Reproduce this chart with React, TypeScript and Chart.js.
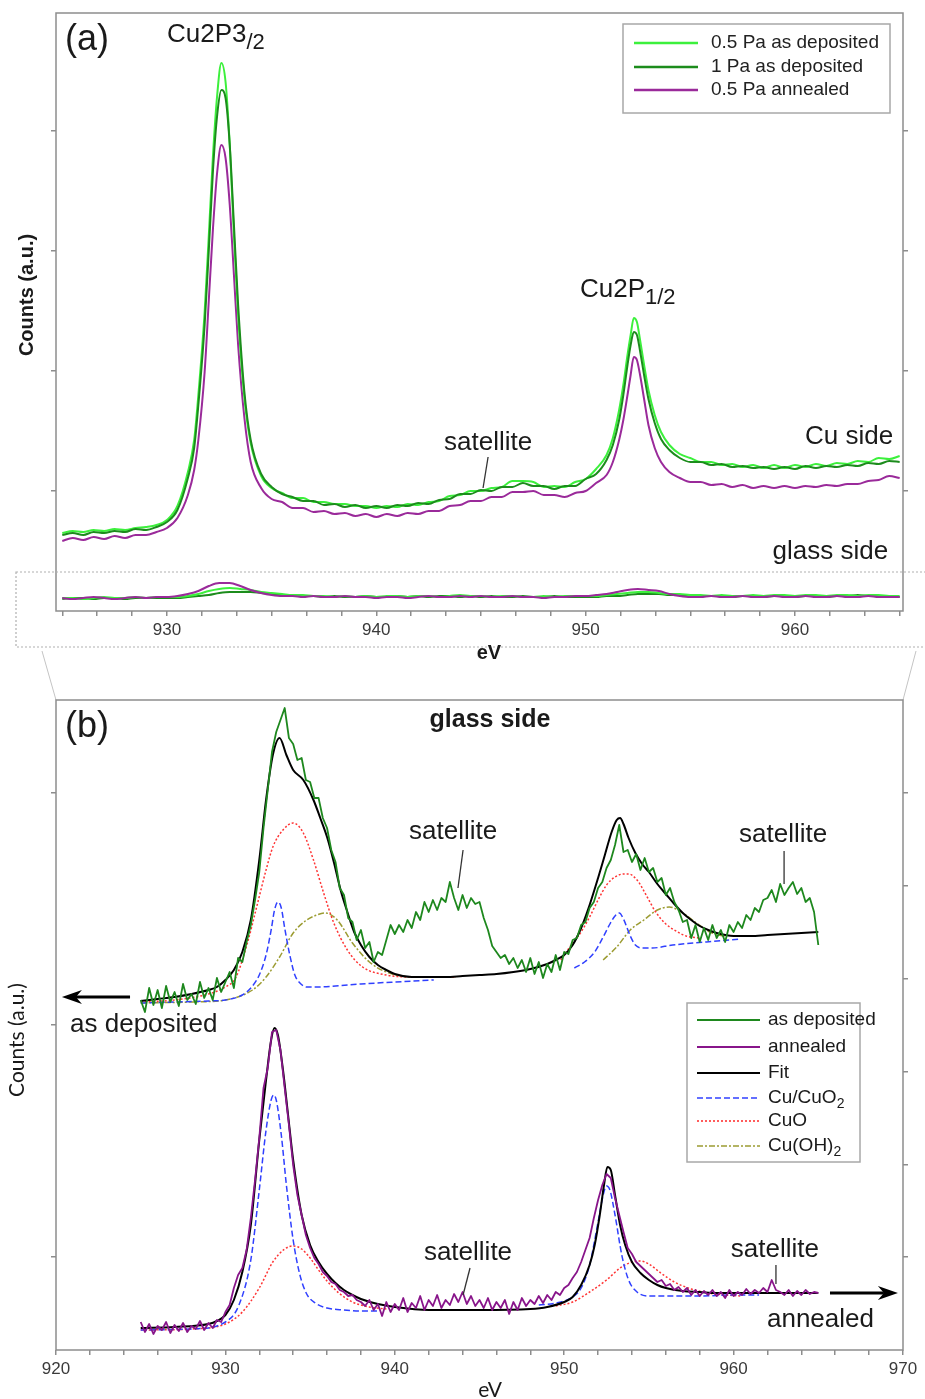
import React, { useEffect, useRef } from "react";
import { Chart, registerables } from "chart.js";
Chart.register(...registerables);

const SANS = '"Liberation Sans", Arial, sans-serif';
const HUM = 'Lato, "Liberation Sans", sans-serif';
const AXIS = "#8d8d8d";
const TXT = "#1a1a1a";

// ---------------- Panel (a) ----------------
const xCu = [925, 925.5, 926, 926.5, 927, 927.5, 928, 928.5, 929, 929.5, 930, 930.5, 931,
  931.3, 931.5, 931.8, 932, 932.2, 932.4, 932.6, 932.8, 933, 933.2, 933.4, 933.7, 934,
  934.5, 935, 935.5, 936, 936.5, 937, 937.5, 938, 938.5, 939, 939.5, 940, 940.5, 941, 941.5, 942, 942.5, 943, 943.5, 944, 944.5, 945, 945.5, 946, 946.5, 947, 947.5, 948, 948.5, 949, 949.5, 950, 950.5,
  951, 951.3, 951.6, 951.8, 952, 952.15, 952.3, 952.45, 952.6, 952.8, 953, 953.3, 953.6, 954,
  954.5, 955, 955.5, 956, 956.5, 957, 957.5, 958, 958.5, 959, 959.5, 960, 960.5, 961, 961.5, 962, 962.5, 963, 963.5, 964, 964.5, 965];
const cuSide05Dep = [78, 80, 79, 81, 80, 82, 81, 83, 84, 86, 91, 105, 139,
  171, 216, 299, 376, 456, 516, 548, 529, 466, 376, 296, 213, 168,
  135, 123, 118, 113, 113, 109, 109, 107, 107, 105, 105, 103, 105, 104, 107, 106, 109, 110, 115, 116, 120, 120, 123, 124, 130, 130, 129, 124, 125, 124, 129, 132, 142,
  156, 173, 201, 226, 256, 276, 293, 289, 271, 245, 221, 196, 179, 166,
  157, 153, 149, 149, 146, 147, 144, 146, 143, 146, 143, 146, 144, 147, 145, 148, 147, 150, 149, 153, 152, 155];
const cuSide1Dep = [76, 78, 76, 79, 78, 80, 79, 82, 81, 84, 89, 101, 133,
  163, 206, 286, 361, 441, 496, 521, 513, 466, 386, 306, 219, 171,
  137, 124, 117, 114, 110, 110, 106, 107, 104, 106, 103, 105, 103, 106, 105, 108, 107, 111, 112, 117, 117, 121, 120, 124, 124, 128, 125, 125, 122, 125, 125, 132, 137,
  151, 166, 191, 216, 246, 266, 279, 276, 260, 235, 212, 188, 172, 161,
  153, 149, 149, 146, 147, 144, 145, 143, 144, 142, 144, 142, 145, 143, 145, 144, 146, 145, 148, 147, 150, 149];
const cuSide05Ann = [70, 73, 71, 74, 72, 75, 73, 76, 76, 79, 83, 93, 116,
  141, 171, 239, 311, 383, 439, 466, 453, 406, 336, 266, 193, 149,
  123, 112, 109, 103, 103, 99, 100, 97, 98, 95, 97, 94, 97, 95, 98, 97, 100, 100, 105, 106, 110, 110, 114, 114, 119, 119, 120, 116, 116, 114, 118, 120, 128,
  136, 149, 171, 191, 216, 236, 254, 251, 236, 211, 186, 163, 149, 139,
  133, 129, 129, 126, 127, 124, 126, 123, 125, 123, 125, 123, 125, 124, 126, 125, 127, 127, 130, 131, 135, 133];

const xGlass = [925, 925.5, 926, 926.5, 927, 927.5, 928, 928.5, 929, 929.5,
  930, 930.5, 931, 931.5, 932, 932.5, 933, 933.5, 934, 934.5,
  935, 935.5, 936, 936.5, 937, 937.5, 938, 938.5, 939, 939.5,
  940, 940.5, 941, 941.5, 942, 942.5, 943, 943.5, 944, 944.5,
  945, 945.5, 946, 946.5, 947, 947.5, 948, 948.5, 949, 949.5,
  950, 950.5, 951, 951.5, 952, 952.5, 953, 953.5, 954, 954.5,
  955, 955.5, 956, 956.5, 957, 957.5, 958, 958.5, 959, 959.5,
  960, 960.5, 961, 961.5, 962, 962.5, 963, 963.5, 964, 964.5, 965];
const glass05Dep = [13, 13, 12, 13, 14, 13, 13, 14, 13, 14,
  14, 14, 15, 17, 20, 22, 23, 22, 21, 19,
  18, 17, 16, 16, 15, 15, 14, 15, 14, 15,
  14, 15, 15, 14, 15, 15, 14, 15, 16, 15,
  15, 14, 15, 15, 14, 14, 15, 14, 15, 15,
  15, 15, 16, 17, 18, 19, 19, 18, 17, 17,
  16, 16, 15, 16, 15, 15, 16, 15, 16, 16,
  15, 16, 16, 15, 16, 16, 15, 16, 16, 15, 15];
const glass1Dep = [12, 13, 13, 12, 13, 13, 12, 13, 13, 13,
  13, 13, 14, 15, 16, 18, 19, 19, 19, 18,
  17, 16, 16, 15, 15, 14, 15, 14, 14, 15,
  14, 14, 15, 14, 15, 14, 15, 15, 14, 15,
  14, 15, 14, 14, 15, 14, 14, 15, 14, 14,
  14, 14, 15, 15, 16, 17, 17, 17, 16, 16,
  16, 15, 15, 15, 14, 15, 15, 14, 15, 15,
  14, 15, 15, 14, 15, 15, 16, 15, 15, 14, 14];
const glass05Ann = [13, 12, 13, 14, 13, 12, 13, 14, 13, 14,
  14, 15, 17, 20, 25, 28, 28, 25, 21, 18,
  16, 15, 15, 14, 15, 14, 14, 15, 14, 14,
  13, 14, 14, 13, 14, 15, 14, 14, 15, 14,
  15, 14, 14, 15, 14, 14, 13, 14, 14, 15,
  15, 16, 17, 19, 21, 22, 21, 20, 17, 15,
  14, 14, 15, 14, 14, 15, 14, 14, 15, 14,
  14, 15, 14, 14, 15, 14, 14, 15, 14, 14, 14];

const topLegendLabels = ["0.5 Pa as deposited", "1 Pa as deposited", "0.5 Pa annealed"];
const topXLabels = [930, 940, 950, 960];

// ---------------- Panel (b) ----------------
const xRaw = [925, 925.25, 925.5, 925.75, 926, 926.25, 926.5, 926.75, 927, 927.25, 927.5, 927.75,
  928, 928.25, 928.5, 928.75, 929, 929.25, 929.5, 929.75, 930, 930.25, 930.5, 930.75,
  931, 931.25, 931.5, 931.75, 932, 932.25, 932.5, 932.75, 933, 933.25, 933.5, 933.75,
  934, 934.25, 934.5, 934.75, 935, 935.25, 935.5, 935.75, 936, 936.25, 936.5, 936.75,
  937, 937.25, 937.5, 937.75, 938, 938.25, 938.5, 938.75, 939, 939.25, 939.5, 939.75,
  940, 940.25, 940.5, 940.75, 941, 941.25, 941.5, 941.75, 942, 942.25, 942.5, 942.75,
  943, 943.25, 943.5, 943.75, 944, 944.25, 944.5, 944.75, 945, 945.25, 945.5, 945.75,
  946, 946.25, 946.5, 946.75, 947, 947.25, 947.5, 947.75, 948, 948.25, 948.5, 948.75,
  949, 949.25, 949.5, 949.75, 950, 950.25, 950.5, 950.75, 951, 951.25, 951.5, 951.75,
  952, 952.25, 952.5, 952.75, 953, 953.25, 953.5, 953.75, 954, 954.25, 954.5, 954.75,
  955, 955.25, 955.5, 955.75, 956, 956.25, 956.5, 956.75, 957, 957.25, 957.5, 957.75,
  958, 958.25, 958.5, 958.75, 959, 959.25, 959.5, 959.75, 960, 960.25, 960.5, 960.75,
  961, 961.25, 961.5, 961.75, 962, 962.25, 962.5, 962.75, 963, 963.25, 963.5, 963.75,
  964, 964.25, 964.5, 964.75, 965];
const rawDeposited = [350, 338, 362, 345, 360, 342, 364, 348, 358, 344, 366, 350,
  356, 346, 368, 352, 362, 350, 372, 358, 368, 378, 362, 392,
  388, 408, 425, 450, 478, 522, 560, 598, 618, 630, 642, 612,
  606, 590, 592, 570, 568, 552, 552, 532, 522, 500, 488, 462,
  455, 432, 428, 410, 420, 402, 408, 388, 398, 395, 410, 425,
  416, 425, 418, 430, 422, 438, 430, 448, 438, 450, 440, 452,
  448, 468, 452, 440, 455, 442, 452, 446, 448, 432, 420, 404,
  398, 392, 395, 386, 392, 382, 390, 378, 392, 376, 388, 372,
  386, 378, 395, 380, 398, 396, 410, 412, 425, 428, 442, 448,
  462, 468, 482, 490, 505, 525, 498, 500, 488, 496, 480, 492,
  478, 482, 468, 472, 455, 462, 448, 440, 428, 430, 412, 425,
  408, 422, 410, 425, 412, 420, 408, 425, 418, 428, 422, 435,
  430, 442, 438, 450, 452, 460, 448, 466, 455, 462, 468, 456,
  462, 448, 452, 438, 405];
const rawAnnealed = [28, 18, 26, 16, 24, 20, 28, 17, 25, 19, 27, 18,
  24, 21, 29, 20, 27, 22, 30, 28, 38, 45, 62, 75,
  82, 100, 132, 170, 212, 262, 282, 318, 320, 300, 262, 225,
  185, 155, 135, 115, 102, 92, 86, 78, 74, 68, 66, 60,
  58, 54, 55, 50, 48, 44, 50, 40, 46, 34, 48, 38,
  46, 40, 52, 38, 47, 42, 54, 40, 50, 44, 55, 42,
  50, 45, 56, 48, 58, 46, 54, 44, 50, 42, 52, 40,
  48, 42, 50, 36, 48, 40, 52, 44, 50, 46, 54, 47,
  55, 50, 58, 55, 62, 65, 72, 78, 88, 100, 112, 132,
  150, 165, 176, 172, 152, 135, 118, 102, 96, 88, 84, 80,
  76, 72, 68, 70, 64, 66, 60, 63, 58, 62, 55, 60,
  54, 59, 55, 60, 54, 58, 52, 60, 54, 58, 55, 61,
  56, 60, 57, 62, 58, 70, 60, 58, 55, 60, 54, 59,
  55, 60, 56, 58, 57];

const fitDepX = [925, 926, 927, 928, 929, 929.5, 930, 930.5, 931, 931.5, 932, 932.4, 932.8, 933.2, 933.6, 934, 934.6, 935.2, 935.6, 936, 936.4, 936.8, 937.2, 937.6, 938, 938.5, 939, 939.5, 940, 941, 942, 943, 944, 945, 946, 947, 948, 949, 949.5, 950, 950.5, 951, 951.5, 952, 952.4, 952.8, 953.1, 953.3, 953.5, 953.8, 954.2, 954.6, 955, 955.5, 956, 956.5, 957, 957.5, 958, 958.5, 959, 960, 961, 962, 963, 964, 965];
const fitDepY = [349, 351, 353, 356, 360, 363, 370, 380, 398, 430, 490, 550, 595, 612, 595, 580, 570, 550, 532, 513, 488, 460, 438, 418, 405, 393, 385, 380, 376, 373, 373, 373, 374, 375, 376, 378, 381, 386, 390, 395, 405, 422, 445, 472, 495, 518, 530, 532, 526, 512, 497, 486, 478, 466, 456, 446, 437, 430, 424, 420, 417, 414, 414, 415, 416, 417, 418];
const cuDep1X = [925, 927, 929, 930, 931, 931.5, 932, 932.4, 932.7, 932.9, 933.1, 933.3, 933.5, 933.8, 934.1, 934.4, 934.8, 935.5, 936.5, 938, 940, 942.3];
const cuDep1Y = [347, 348, 349, 350, 355, 362, 375, 395, 420, 440, 448, 442, 422, 395, 375, 367, 363, 363, 364, 366, 368, 370];
const cuDep2X = [950.6, 951.2, 951.8, 952.3, 952.7, 953.0, 953.25, 953.5, 953.9, 954.2, 954.6, 955.2, 956.4, 958.4, 960.4];
const cuDep2Y = [382, 388, 398, 413, 426, 434, 437, 431, 414, 405, 402, 402, 405, 408, 411];
const cuoDep1X = [925, 927, 929, 930, 930.6, 931.3, 931.8, 932.4, 932.8, 933.4, 934, 934.6, 935.2, 935.8, 936.4, 937.2, 938.1, 939.5, 941.1, 943.6];
const cuoDep1Y = [348, 350, 356, 363, 372, 407, 440, 480, 503, 520, 527, 517, 490, 457, 427, 400, 383, 375, 373, 373];
const cuoDep2X = [949.8, 950.5, 951, 951.5, 952, 952.5, 953, 953.5, 953.8, 954.3, 954.9, 955.4, 956, 956.5, 957.2, 958];
const cuoDep2Y = [390, 407, 418, 433, 450, 465, 473, 476, 476, 470, 453, 438, 426, 420, 414, 412];
const ohDep1X = [925, 928, 930, 931.6, 932.4, 933.2, 934, 934.8, 935.4, 935.9, 936.6, 937.5, 938.5, 939.5, 941.1, 943.6];
const ohDep1Y = [347, 348, 350, 360, 373, 393, 417, 430, 435, 437, 430, 407, 388, 378, 373, 373];
const ohDep2X = [952.3, 953.1, 953.9, 954.7, 955.5, 956.2, 957, 957.8, 958.6, 959.6];
const ohDep2Y = [390, 403, 420, 430, 440, 443, 437, 427, 418, 413];

const fitAnnX = [925, 927, 929, 929.5, 930, 930.5, 931, 931.5, 932, 932.4, 932.7, 932.9, 933.1, 933.4, 933.7, 934, 934.5, 935, 935.5, 936, 936.5, 937, 937.5, 938, 939, 940, 942, 945, 948, 949, 950, 950.5, 951, 951.5, 951.8, 952.1, 952.35, 952.55, 952.75, 953, 953.3, 953.6, 954, 954.5, 955, 955.5, 956, 957, 958, 959, 960, 962, 965];
const fitAnnY = [22, 23, 26, 29, 35, 50, 78, 125, 210, 270, 310, 322, 315, 280, 235, 190, 135, 105, 88, 76, 67, 60, 55, 51, 46, 43, 40, 40, 41, 43, 48, 53, 65, 85, 105, 135, 165, 183, 180, 155, 125, 105, 88, 77, 70, 65, 62, 59, 58, 57, 57, 57, 57];
const cuAnn1X = [925, 928, 930, 930.8, 931.5, 932, 932.4, 932.7, 932.85, 933, 933.3, 933.6, 934, 934.4, 934.8, 935.3, 936, 937, 938, 939];
const cuAnn1Y = [20, 21, 28, 45, 90, 160, 220, 250, 255, 250, 215, 165, 110, 75, 56, 47, 42, 40, 39, 39];
const cuAnn2X = [948.5, 949.5, 950.5, 951, 951.5, 952, 952.3, 952.5, 952.7, 953, 953.4, 953.8, 954.3, 955, 956, 958, 960, 961.5];
const cuAnn2Y = [45, 47, 53, 62, 85, 128, 155, 164, 160, 135, 95, 70, 58, 54, 54, 54, 55, 55];
const cuoAnn1X = [925, 928, 930, 931, 932, 932.8, 933.5, 934, 934.5, 935, 935.5, 936, 936.7, 937.5, 938.5, 939.5];
const cuoAnn1Y = [20, 21, 26, 38, 62, 88, 101, 104, 101, 92, 80, 69, 57, 48, 43, 41];
const cuoAnn2X = [949.5, 950.5, 951.5, 952.5, 953.3, 954, 954.5, 955, 955.7, 956.5, 957.5, 958.5, 959.5, 960.5];
const cuoAnn2Y = [44, 48, 58, 70, 82, 88, 89, 86, 77, 68, 61, 57, 55, 54];

const bottomLegendLabels: [string, string][] = [["as deposited", ""], ["annealed", ""], ["Fit", ""], ["Cu/CuO", "2"], ["CuO", ""], ["Cu(OH)", "2"]];
const bottomXLabels = [920, 930, 940, 950, 960, 970];

// ---------------- styles ----------------
const C_BG = "#3cf03c";
const C_DG = "#1c8c1c";
const C_PU = "#9a2a9a";
const C_GREEN = "#1e881e";
const C_PURPLE = "#88158a";
const C_BLUE = "#3040ff";
const C_RED = "#ff3535";
const C_OLIVE = "#9c9c32";
const DASH_BLUE = [6, 3];
const DASH_RED = [2, 2];
const DASH_OLIVE = [6, 2, 2, 2];

const pts = (xs: number[], ys: number[]) => xs.map((x, i) => ({ x, y: ys[i] }));
const ds = (xs: number[], ys: number[], color: string, width: number, extra: any = {}) => ({
  data: pts(xs, ys), borderColor: color, borderWidth: width, pointRadius: 0, fill: false,
  tension: 0, borderJoinStyle: "round", ...extra,
});
const smooth = { cubicInterpolationMode: "monotone" };

function txt(ctx: CanvasRenderingContext2D, s: string, x: number, y: number, font: string, align: CanvasTextAlign = "left", color = TXT) {
  ctx.font = font; ctx.fillStyle = color; ctx.textAlign = align; ctx.textBaseline = "middle";
  ctx.fillText(s, x, y);
}
function txtSub(ctx: CanvasRenderingContext2D, main: string, sub: string, x: number, y: number, size: number, subSize: number, font = SANS) {
  ctx.font = `${size}px ${font}`;
  const w1 = ctx.measureText(main).width;
  txt(ctx, main, x, y, `${size}px ${font}`);
  if (sub) txt(ctx, sub, x + w1, y + size * 0.3, `${subSize}px ${font}`);
}
function line(ctx: CanvasRenderingContext2D, x1: number, y1: number, x2: number, y2: number, color = "#333", w = 1.3, dash: number[] = []) {
  ctx.save(); ctx.strokeStyle = color; ctx.lineWidth = w; ctx.setLineDash(dash);
  ctx.beginPath(); ctx.moveTo(x1, y1); ctx.lineTo(x2, y2); ctx.stroke(); ctx.restore();
}
function arrow(ctx: CanvasRenderingContext2D, x1: number, y: number, x2: number) {
  const dir = Math.sign(x2 - x1);
  const head = 20;
  line(ctx, x1, y, x2 - dir * head * 0.7, y, "#000", 3);
  ctx.save(); ctx.fillStyle = "#000"; ctx.beginPath();
  ctx.moveTo(x2, y); ctx.lineTo(x2 - dir * head, y - 7); ctx.lineTo(x2 - dir * head * 0.7, y); ctx.lineTo(x2 - dir * head, y + 7);
  ctx.closePath(); ctx.fill(); ctx.restore();
}

const grid = { display: true, drawOnChartArea: false, drawTicks: true, tickLength: 5, color: AXIS, lineWidth: 1.5 };

function tickSet(values: number[]) {
  return (axis: any) => { axis.ticks = values.map((v) => ({ value: v })); };
}
function labelIf(labels: number[]) {
  return (v: any) => {
    const r = Math.round(Number(v));
    return Math.abs(Number(v) - r) < 1e-6 && labels.includes(r) ? String(r) : "";
  };
}

const topXTicks = Array.from({ length: 25 }, (_, k) => 925 + (k * 10) / 6);
const topYTicks = [120, 240, 360, 480];
const botXTicks = Array.from({ length: 26 }, (_, k) => 920 + 2 * k);
const botRightTicks = [1, 2, 3, 4, 5, 6].map((k) => (k * 650) / 7);
const botLeftTicks = [1, 3.5, 6].map((k) => (k * 650) / 7);

const decorA = {
  id: "decorA",
  afterDraw(chart: any) {
    const { ctx, chartArea: ca, scales } = chart;
    const X = (v: number) => scales.x.getPixelForValue(v);
    const Y = (v: number) => scales.y.getPixelForValue(v);
    ctx.save();
    ctx.strokeStyle = AXIS; ctx.lineWidth = 1.5; ctx.setLineDash([]);
    ctx.strokeRect(ca.left, ca.top, ca.right - ca.left, ca.bottom - ca.top);
    // zoom window marker
    ctx.strokeStyle = "#b0b0b0"; ctx.lineWidth = 1.2; ctx.setLineDash([2, 2]);
    ctx.strokeRect(ca.left - 40, ca.bottom - 39, 940, 75);
    ctx.setLineDash([]);
    line(ctx, ca.left - 14, ca.bottom + 40, ca.left, chart.height, "#c4c4c4", 1);
    line(ctx, ca.right + 13, ca.bottom + 40, ca.right, chart.height, "#c4c4c4", 1);
    // axis titles
    txt(ctx, "eV", X(945.38), ca.bottom + 42, `bold 20px ${SANS}`, "center");
    ctx.save(); ctx.translate(27, 295); ctx.rotate(-Math.PI / 2);
    txt(ctx, "Counts (a.u.)", 0, 0, `bold 20px ${SANS}`, "center"); ctx.restore();
    // annotations
    txt(ctx, "(a)", X(925.13), Y(571), `36px ${SANS}`);
    txtSub(ctx, "Cu2P3", "/2", X(930.0), Y(576), 26, 22);
    txtSub(ctx, "Cu2P", "1/2", X(949.73), Y(321), 26, 22);
    txt(ctx, "satellite", X(945.34), Y(168), `26px ${SANS}`, "center");
    line(ctx, X(945.34), Y(154), X(945.1), Y(123));
    txt(ctx, "Cu side", X(964.69), Y(174), `26px ${SANS}`, "right");
    txt(ctx, "glass side", X(964.45), Y(59), `26px ${SANS}`, "right");
    // legend
    const bx = ca.right - 280, by = ca.top + 11;
    ctx.fillStyle = "#fff"; ctx.fillRect(bx, by, 267, 89);
    ctx.strokeStyle = "#a8a8a8"; ctx.lineWidth = 1.5; ctx.strokeRect(bx, by, 267, 89);
    const cols = [C_BG, C_DG, C_PU];
    const rows = [19, 43, 66];
    topLegendLabels.forEach((lab, i) => {
      line(ctx, bx + 11, by + rows[i], bx + 75, by + rows[i], cols[i], 2.5);
      txt(ctx, lab, bx + 88, by + rows[i], `19px ${SANS}`, "left", "#222");
    });
    ctx.restore();
  },
};

const decorB = {
  id: "decorB",
  afterDraw(chart: any) {
    const { ctx, chartArea: ca, scales } = chart;
    const X = (v: number) => scales.x.getPixelForValue(v);
    const Y = (v: number) => scales.y.getPixelForValue(v);
    ctx.save();
    ctx.strokeStyle = AXIS; ctx.lineWidth = 1.5; ctx.setLineDash([]);
    ctx.strokeRect(ca.left, ca.top, ca.right - ca.left, ca.bottom - ca.top);
    txt(ctx, "eV", X(945.62), ca.bottom + 40, `21px ${HUM}`, "center");
    ctx.save(); ctx.translate(17, 380); ctx.rotate(-Math.PI / 2);
    txt(ctx, "Counts (a.u.)", 0, 0, `21px ${HUM}`, "center"); ctx.restore();
    txt(ctx, "(b)", X(920.53), Y(623), `36px ${SANS}`);
    txt(ctx, "glass side", X(945.62), Y(630), `bold 25px ${SANS}`, "center");
    txt(ctx, "satellite", X(943.44), Y(518), `26px ${SANS}`, "center");
    line(ctx, X(944.03), Y(500), X(943.73), Y(462));
    txt(ctx, "satellite", X(962.92), Y(515), `26px ${SANS}`, "center");
    line(ctx, X(962.98), Y(499), X(962.98), Y(466));
    txt(ctx, "as deposited", X(920.83), Y(325), `26px ${SANS}`);
    arrow(ctx, X(924.37), Y(353), X(920.35));
    txt(ctx, "annealed", X(961.97), Y(30), `26px ${SANS}`);
    arrow(ctx, X(965.69), Y(57), X(969.7));
    txt(ctx, "satellite", X(944.32), Y(97), `26px ${SANS}`, "center");
    line(ctx, X(944.44), Y(82), X(944.03), Y(55));
    txt(ctx, "satellite", X(962.44), Y(100), `26px ${SANS}`, "center");
    line(ctx, X(962.5), Y(85), X(962.5), Y(66));
    // legend
    const bx = ca.right - 216, by = ca.top + 303;
    ctx.fillStyle = "#fff"; ctx.fillRect(bx, by, 173, 159);
    ctx.strokeStyle = "#a8a8a8"; ctx.lineWidth = 1.5; ctx.strokeRect(bx, by, 173, 159);
    const cols = [C_GREEN, C_PURPLE, "#000", C_BLUE, C_RED, C_OLIVE];
    const dashes = [[], [], [], DASH_BLUE, DASH_RED, DASH_OLIVE];
    const rows = [17, 44, 70, 95, 118, 143];
    bottomLegendLabels.forEach(([m, s], i) => {
      line(ctx, bx + 10, by + rows[i], bx + 73, by + rows[i], cols[i], i < 3 ? 2.2 : 1.6, dashes[i]);
      txtSub(ctx, m, s, bx + 81, by + rows[i], 19, 14);
    });
    ctx.restore();
  },
};

export default function App() {
  const refA = useRef<HTMLCanvasElement>(null);
  const refB = useRef<HTMLCanvasElement>(null);
  useEffect(() => {
    const tickFont = { family: SANS, size: 17 };
    const chartA = new Chart(refA.current as HTMLCanvasElement, {
      type: "line",
      data: {
        datasets: [
          ds(xCu, cuSide1Dep, C_DG, 2, smooth),
          ds(xCu, cuSide05Dep, C_BG, 2, smooth),
          ds(xCu, cuSide05Ann, C_PU, 2, smooth),
          ds(xGlass, glass05Ann, C_PU, 2, smooth),
          ds(xGlass, glass05Dep, C_BG, 2, smooth),
          ds(xGlass, glass1Dep, C_DG, 2, smooth),
        ] as any,
      },
      options: {
        animation: false, responsive: false, devicePixelRatio: 1, events: [],
        layout: { padding: { top: 13, left: 0, right: 0, bottom: 0 } },
        plugins: { legend: { display: false }, tooltip: { enabled: false } },
        scales: {
          x: {
            type: "linear", min: 924.7, max: 965.16,
            afterBuildTicks: tickSet(topXTicks),
            afterFit: (s: any) => { s.height = 89; },
            grid, border: { display: false },
            ticks: { autoSkip: false, maxRotation: 0, padding: 4, font: tickFont, color: "#3a3a3a", callback: labelIf(topXLabels) },
          },
          y: {
            type: "linear", position: "left", min: 0, max: 598,
            afterBuildTicks: tickSet(topYTicks),
            afterFit: (s: any) => { s.width = 56; },
            grid, border: { display: false }, ticks: { display: false },
          },
          y2: {
            type: "linear", position: "right", min: 0, max: 598,
            afterBuildTicks: tickSet(topYTicks),
            afterFit: (s: any) => { s.width = 22; },
            grid, border: { display: false }, ticks: { display: false },
          },
        },
      } as any,
      plugins: [decorA],
    });
    const chartB = new Chart(refB.current as HTMLCanvasElement, {
      type: "line",
      data: {
        datasets: [
          ds(xRaw, rawDeposited, C_GREEN, 1.8),
          ds(xRaw, rawAnnealed, C_PURPLE, 1.8),
          ds(fitDepX, fitDepY, "#000", 2, smooth),
          ds(fitAnnX, fitAnnY, "#000", 2, smooth),
          ds(cuDep1X, cuDep1Y, C_BLUE, 1.5, { ...smooth, borderDash: DASH_BLUE }),
          ds(cuDep2X, cuDep2Y, C_BLUE, 1.5, { ...smooth, borderDash: DASH_BLUE }),
          ds(cuoDep1X, cuoDep1Y, C_RED, 1.5, { ...smooth, borderDash: DASH_RED }),
          ds(cuoDep2X, cuoDep2Y, C_RED, 1.5, { ...smooth, borderDash: DASH_RED }),
          ds(ohDep1X, ohDep1Y, C_OLIVE, 1.5, { ...smooth, borderDash: DASH_OLIVE }),
          ds(ohDep2X, ohDep2Y, C_OLIVE, 1.5, { ...smooth, borderDash: DASH_OLIVE }),
          ds(cuAnn1X, cuAnn1Y, C_BLUE, 1.5, { ...smooth, borderDash: DASH_BLUE }),
          ds(cuAnn2X, cuAnn2Y, C_BLUE, 1.5, { ...smooth, borderDash: DASH_BLUE }),
          ds(cuoAnn1X, cuoAnn1Y, C_RED, 1.5, { ...smooth, borderDash: DASH_RED }),
          ds(cuoAnn2X, cuoAnn2Y, C_RED, 1.5, { ...smooth, borderDash: DASH_RED }),
        ] as any,
      },
      options: {
        animation: false, responsive: false, devicePixelRatio: 1, events: [],
        layout: { padding: { top: 40, left: 0, right: 0, bottom: 0 } },
        plugins: { legend: { display: false }, tooltip: { enabled: false } },
        scales: {
          x: {
            type: "linear", min: 920, max: 970,
            afterBuildTicks: tickSet(botXTicks),
            afterFit: (s: any) => { s.height = 49; },
            grid, border: { display: false },
            ticks: { autoSkip: false, maxRotation: 0, padding: 4, font: tickFont, color: "#3a3a3a", callback: labelIf(bottomXLabels) },
          },
          y: {
            type: "linear", position: "left", min: 0, max: 650,
            afterBuildTicks: tickSet(botLeftTicks),
            afterFit: (s: any) => { s.width = 56; },
            grid, border: { display: false }, ticks: { display: false },
          },
          y2: {
            type: "linear", position: "right", min: 0, max: 650,
            afterBuildTicks: tickSet(botRightTicks),
            afterFit: (s: any) => { s.width = 22; },
            grid, border: { display: false }, ticks: { display: false },
          },
        },
      } as any,
      plugins: [decorB],
    });
    return () => { chartA.destroy(); chartB.destroy(); };
  }, []);
  return (
    <div style={{ position: "absolute", left: 0, top: 0, width: 925, height: 1399, background: "#fff" }}>
      <canvas ref={refA} width={925} height={700} style={{ position: "absolute", left: 0, top: 0 }} />
      <canvas ref={refB} width={925} height={739} style={{ position: "absolute", left: 0, top: 660 }} />
    </div>
  );
}
